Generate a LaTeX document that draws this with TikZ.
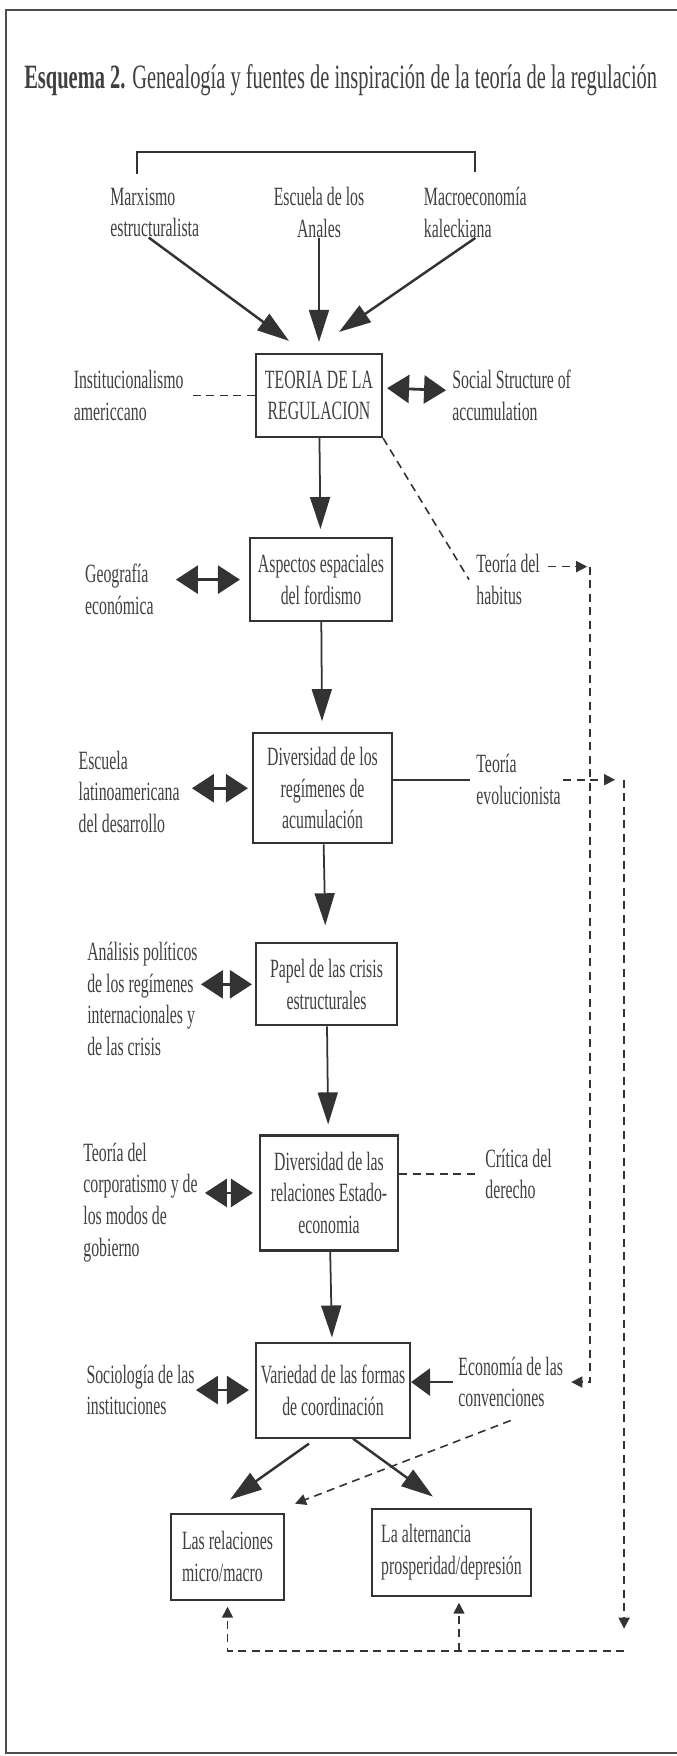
\documentclass[tikz,border=0pt]{standalone}
\usepackage{fontspec}
\setmainfont[FakeStretch=0.6]{Liberation Serif}
\usetikzlibrary{positioning, arrows.meta, calc}

\begin{document}
\begin{tikzpicture}[
  node distance=2cm and 1.4cm,
  box/.style={draw=black!80, line width=1.2pt, align=center, inner sep=2pt, text=black!75},
  lbl/.style={align=left, inner sep=0pt, text=black!75},
  flow/.style={->, draw=black!80, line width=1pt},
  hflow/.style={-{Triangle[length=3.8mm,width=5.4mm]}, draw=black!80, line width=1.6pt},
  dbl/.style={{Triangle[length=4.4mm,width=5.6mm]}-{Triangle[length=4.4mm,width=5.6mm]}, draw=black!80, line width=1.6pt},
  bracket/.style={draw=black!80, line width=1.2pt},
  dashline/.style={draw=black!80, line width=0.9pt, dash pattern=on 1.6mm off 1.1mm},
  dasharrow/.style={dashline, -{Triangle[length=2.2mm,width=2.2mm]}},
  >={Triangle[length=6.4mm,width=4mm]},
  font=\fontsize{15}{18}\selectfont
  ]
  % marco
  \useasboundingbox (0,0) rectangle (13.54,-35.12);
  \draw[black!70, line width=1pt] (13.54,-0.2) -| (0.12,-35.06) -- (13.54,-35.06);

  % titulo
  \node[lbl, anchor=west, font=\fontsize{19.4}{22}\selectfont] (titulo) at (0.48,-1.6) {\textbf{Esquema 2.} Genealogía y fuentes de inspiración de la teoría de la regulación};

  % columna central
  \node[box, minimum width=2.52cm, minimum height=1.66cm] (teoria) at (6.38,-7.91) {TEORIA DE LA\\REGULACION};
  \node[box, minimum width=2.84cm, minimum height=1.66cm] (aspectos) [below=1.98cm of teoria, xshift=0.04cm] {Aspectos espaciales\\del fordismo};
  \node[box, minimum width=2.78cm, minimum height=2.2cm] (regimenes) [below=2.2cm of aspectos, xshift=0.03cm] {Diversidad de los\\regímenes de\\acumulación};
  \node[box, minimum width=2.82cm, minimum height=1.64cm] (papel) [below=1.96cm of regimenes, xshift=0.08cm] {Papel de las crisis\\estructurales};
  \node[box, minimum width=2.76cm, minimum height=2.3cm] (estado) [below=2.16cm of papel, xshift=0.05cm] {Diversidad de las\\relaciones Estado-\\economia};
  \node[box, minimum width=3.08cm, minimum height=1.9cm] (variedad) [below=1.8cm of estado, xshift=0.08cm] {Variedad de las formas\\de coordinación};
  \node[box, align=left, minimum width=2.26cm, minimum height=1.72cm] (micro) [below=1.48cm of variedad, xshift=-2.11cm] {Las relaciones\\micro/macro};
  \node[box, align=left, minimum width=3.18cm, minimum height=1.74cm] (altern) [below=1.38cm of variedad, xshift=2.37cm] {La alternancia\\prosperidad/depresión};

  % fuentes
  \node[lbl, align=center] (anales) [above=2.3cm of teoria] {Escuela de los\\Anales};
  \node[lbl] (marx) [left=1.48cm of anales] {Marxismo\\estructuralista};
  \node[lbl] (kalecki) [right=1.18cm of anales] {Macroeconomía\\kaleckiana};

  % textos laterales
  \node[lbl] (inst) [left=1.42cm of teoria] {Institucionalismo\\americcano};
  \node[lbl] (ssa) [right=1.38cm of teoria] {Social Structure of\\accumulation};
  \node[lbl] (geo) [left=1.9cm of aspectos, yshift=-0.2cm] {Geografía\\económica};
  \node[lbl] (habitus) [right=1.66cm of aspectos] {Teoría del\\habitus};
  \node[lbl] (latino) [left=1.44cm of regimenes, yshift=-0.07cm] {Escuela\\latinoamericana\\del desarrollo};
  \node[lbl] (evol) [right=1.66cm of regimenes, yshift=0.17cm] {Teoría\\evolucionista};
  \node[lbl] (polit) [left=1.14cm of papel, yshift=-0.29cm] {Análisis políticos\\de los regímenes\\internacionales y\\de las crisis};
  \node[lbl] (corpo) [left=1.22cm of estado, yshift=-0.19cm] {Teoría del\\corporatismo y de\\los modos de\\gobierno};
  \node[lbl] (critica) [right=1.72cm of estado, yshift=0.38cm] {Crítica del\\derecho};
  \node[lbl] (socio) [left=1.2cm of variedad] {Sociología de las\\instituciones};
  \node[lbl] (conv) [right=0.94cm of variedad, yshift=0.16cm] {Economía de las\\convenciones};

  % corchete y flechas de entrada
  \draw[bracket] ([shift={(-0.36cm,0.26cm)}]marx.north) |- ([yshift=0.7cm]kalecki.north) -- ([yshift=0.3cm]kalecki.north);
  \draw[flow, line width=1.4pt] ([xshift=-0.12cm]marx.south) -- ([shift={(-0.6cm,0.24cm)}]teoria.north);
  \draw[flow, shorten >=0.22cm] (anales) -- (teoria);
  \draw[flow, line width=1.4pt] (kalecki.south) -- ([shift={(0.4cm,0.42cm)}]teoria.north);

  % alrededor de la teoria
  \draw[dashline, shorten >=0.18cm] (teoria) -- (inst);
  \draw[dbl, shorten <=0.08cm, shorten >=0.12cm] ([yshift=0.15cm]teoria.east) -- ([yshift=0.1cm]ssa.west);
  \draw[dashline] (teoria.south east) -- ([xshift=-0.14cm]habitus.west);

  % habitus hacia las convenciones
  \draw[dasharrow] ([shift={(0.16cm,0.26cm)}]habitus.east) -- ([shift={(0.94cm,0.26cm)}]habitus.east);
  \coordinate (hbend) at ([shift={(1cm,0.26cm)}]habitus.east);
  \draw[dasharrow] (hbend) |- ([xshift=0.16cm]conv.east);

  % flechas de la columna
  \draw[flow, shorten >=0.16cm] (teoria) -- (aspectos);
  \draw[flow, shorten >=0.22cm] (aspectos) -- (regimenes);
  \draw[flow, shorten >=0.34cm] (regimenes) -- (papel);
  \draw[flow, shorten >=0.2cm] (papel) -- (estado);
  \draw[flow, shorten >=0.08cm] (estado) -- (variedad);

  % relaciones laterales
  \draw[dbl, shorten <=0.44cm, shorten >=0.18cm] (geo.east |- aspectos.west) -- (aspectos.west);
  \draw[dbl, shorten <=0.24cm, shorten >=0.08cm] (latino.east |- regimenes.west) -- (regimenes.west);
  \draw[draw=black!80, line width=1.2pt, shorten >=0.12cm] (regimenes.east |- evol.west) -- (evol.west);
  \draw[dbl, shorten <=0.06cm, shorten >=0.06cm] (polit.east |- papel.west) -- (papel.west);
  \draw[dbl, shorten <=0.14cm, shorten >=0.12cm] (corpo.east |- estado.west) -- (estado.west);
  \draw[dashline, shorten >=0.18cm] (estado.east |- critica.west) -- (critica.west);
  \draw[dbl, shorten <=0.02cm, shorten >=0.12cm] (socio.east |- variedad.west) -- (variedad.west);
  \draw[hflow, shorten <=0.1cm] (conv.west) -- (variedad.east |- conv.west);

  % evolucionista hacia abajo
  \draw[dasharrow] ([xshift=0.04cm]evol.east) -- ([xshift=1.08cm]evol.east);
  \coordinate (ebend) at ([xshift=1.26cm]evol.east);
  \coordinate (loop) at ($(micro.south -| ebend)+(0,-1)$);
  \draw[dasharrow, shorten >=0.44cm] (ebend) -- (loop);
  \draw[dasharrow, shorten >=0.12cm] (loop) -| (micro);
  \draw[dasharrow, shorten >=0.12cm] ([xshift=0.15cm]altern.south |- loop) -- ([xshift=0.15cm]altern.south);

  % salidas
  \draw[flow, line width=1.4pt] ([shift={(-0.48cm,-0.1cm)}]variedad.south) -- ([shift={(0.05cm,0.26cm)}]micro.north);
  \draw[flow, line width=1.4pt] ([xshift=0.4cm]variedad.south) -- ([shift={(-0.37cm,0.22cm)}]altern.north);
  \draw[dasharrow] ([yshift=-0.26cm]conv.south) -- ([shift={(0.2cm,0.18cm)}]micro.north east);
\end{tikzpicture}
\end{document}
